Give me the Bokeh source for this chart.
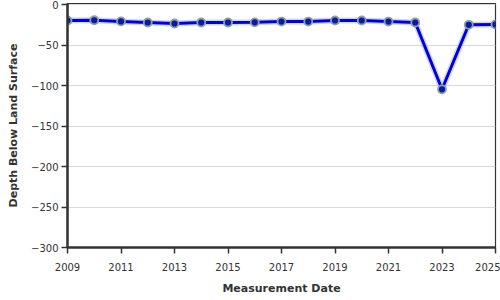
from bokeh.plotting import figure
from bokeh.models import FixedTicker, Range1d
from bokeh.embed import file_html
from bokeh.resources import INLINE

years = [2009, 2010, 2011, 2012, 2013, 2014, 2015, 2016, 2017, 2018, 2019,
         2020, 2021, 2022, 2023, 2024, 2025]
depth = [-19.5, -19.2, -20.6, -22.0, -23.2, -22.0, -22.0, -21.8, -20.8, -20.8,
         -19.5, -19.5, -20.8, -22.0, -104.5, -24.8, -24.4]
x_ticks = [2009, 2011, 2013, 2015, 2017, 2019, 2021, 2023, 2025]
y_ticks = [0, -50, -100, -150, -200, -250, -300]

p = figure(width=500, height=300, output_backend="svg", toolbar_location=None,
           x_range=Range1d(2009, 2025), y_range=Range1d(-300, 1.5),
           min_border_left=67, min_border_right=5, min_border_top=3,
           min_border_bottom=53)

p.line(years, depth, line_color="#9fb0ff", line_width=6, line_alpha=0.5)
p.line(years, depth, line_color="#0000dd", line_width=3)
p.scatter(years, depth, size=8, fill_color="#0a1aa8", line_color="#8f9f9f",
          line_width=1.8)

p.xaxis.ticker = FixedTicker(ticks=x_ticks)
p.yaxis.ticker = FixedTicker(ticks=y_ticks)
p.xaxis.axis_label = "Measurement Date"
p.yaxis.axis_label = "Depth Below Land Surface"

for ax in (p.xaxis, p.yaxis):
    ax.axis_line_width = 2.5
    ax.axis_line_color = "#333333"
    ax.major_tick_line_color = "#333333"
    ax.major_tick_line_width = 1.5
    ax.major_tick_out = 6
    ax.major_tick_in = 0
    ax.minor_tick_line_color = None
    ax.major_label_text_font = "DejaVu Sans"
    ax.major_label_text_font_size = "10px"
    ax.major_label_text_color = "#333333"
    ax.axis_label_text_font = "DejaVu Sans"
    ax.axis_label_text_font_size = "11px"
    ax.axis_label_text_font_style = "bold"
    ax.axis_label_text_color = "#333333"

p.xaxis.major_label_standoff = 9
p.xaxis.axis_label_standoff = 8
p.yaxis.major_label_standoff = 3
p.yaxis.axis_label_standoff = 8

p.xgrid.grid_line_color = None
p.ygrid.grid_line_color = "#d8d8d8"
p.ygrid.grid_line_width = 1

p.outline_line_color = "#333333"
p.outline_line_width = 1.2
p.background_fill_color = "white"
p.border_fill_color = "white"

open("out.html", "w").write(file_html(p, INLINE))
